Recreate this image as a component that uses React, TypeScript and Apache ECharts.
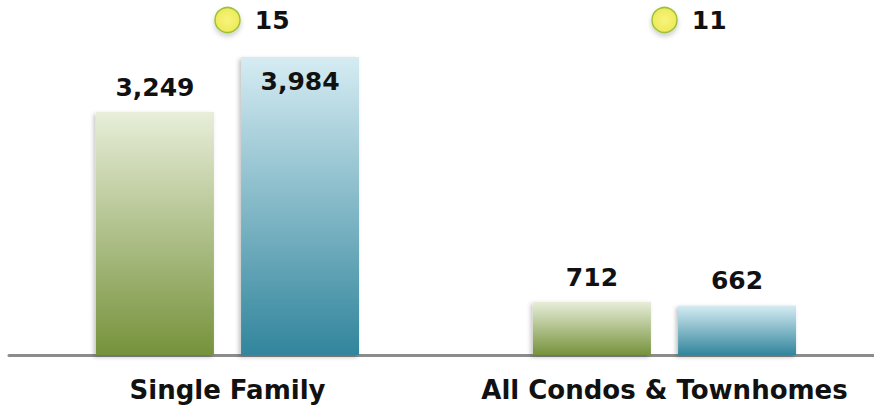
import React, { useEffect, useRef } from "react";
import * as echarts from "echarts";

const categories = ["Single Family", "All Condos & Townhomes"];
const seriesA = [3249, 712];
const seriesB = [3984, 662];
const dotValues = [15, 11];

const FONT = "DejaVu Sans";

function grad(top: string, bottom: string) {
  return new echarts.graphic.LinearGradient(0, 0, 0, 1, [
    { offset: 0, color: top },
    { offset: 1, color: bottom },
  ]);
}

export default function App() {
  const ref = useRef<HTMLDivElement>(null);
  useEffect(() => {
    document.body.style.margin = "0";
    if (!ref.current) return;
    const chart = echarts.init(ref.current, null, { renderer: "svg" });
    const valueLabel = {
      show: true,
      position: "top",
      distance: 12,
      fontFamily: FONT,
      fontWeight: "bold",
      fontSize: 25,
      color: "#111",
      formatter: (p: any) => Number(p.value).toLocaleString("en-US"),
    };
    const barShadow = {
      shadowColor: "rgba(0,0,0,0.25)",
      shadowBlur: 4,
      shadowOffsetX: -2,
      shadowOffsetY: 2,
    };
    chart.setOption({
      animation: false,
      grid: {
        left: 9,
        width: 874,
        top: 20,
        bottom: 54,
        containLabel: false,
        outerBoundsMode: "none",
      },
      xAxis: {
        type: "category",
        data: categories,
        axisTick: { show: false },
        axisLine: { show: true, lineStyle: { color: "#8c8c8c", width: 3 } },
        axisLabel: {
          interval: 0,
          margin: 22,
          fontFamily: FONT,
          fontWeight: "bold",
          fontSize: 26,
          color: "#111",
        },
      },
      yAxis: [
        { type: "value", min: 0, max: 4480, show: false, splitLine: { show: false } },
        { type: "value", min: 0, max: 1, show: false, splitLine: { show: false } },
      ],
      series: [
        {
          type: "bar",
          data: seriesA,
          barWidth: 118,
          barGap: "23%",
          itemStyle: { color: grad("#e8eed9", "#76923b"), ...barShadow },
          label: valueLabel,
        },
        {
          type: "bar",
          data: seriesB.map((v, i) =>
            i === 0
              ? { value: v, label: { position: "insideTop", distance: 12 } }
              : v
          ),
          barWidth: 118,
          itemStyle: { color: grad("#d6ecf3", "#31859c"), ...barShadow },
          label: valueLabel,
        },
        {
          type: "scatter",
          yAxisIndex: 1,
          data: dotValues.map((v, i) => ({ value: [i, 1], dot: v })),
          symbol: "circle",
          symbolSize: 25,
          itemStyle: {
            opacity: 1,
            color: new echarts.graphic.RadialGradient(0.5, 0.5, 0.5, [
              { offset: 0, color: "#f8f47c" },
              { offset: 1, color: "#eeea5a" },
            ]),
            borderColor: "#9cc23a",
            borderWidth: 1.5,
            shadowColor: "rgba(0,0,0,0.2)",
            shadowBlur: 5,
            shadowOffsetY: 3,
          },
          label: {
            show: true,
            position: "right",
            distance: 14,
            fontFamily: FONT,
            fontWeight: "bold",
            fontSize: 25,
            color: "#111",
            formatter: (p: any) => String(dotValues[p.dataIndex]),
          },
        },
      ],
    });
    return () => chart.dispose();
  }, []);
  return <div ref={ref} style={{ width: 874, height: 409 }} />;
}
